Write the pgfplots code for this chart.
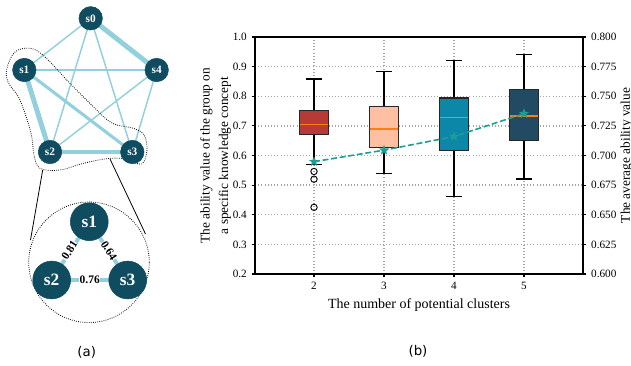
\documentclass[border=0pt]{standalone}
\usepackage{fontspec}
\setmainfont{Liberation Serif}
\newfontfamily\dejavu{DejaVu Sans}
\usepackage{pgfplots}
\pgfplotsset{compat=1.18}
\definecolor{nodec}{HTML}{0F4C5F}
\definecolor{edgec}{HTML}{92D0DE}
\definecolor{bA}{HTML}{B83A36}
\definecolor{bB}{HTML}{FFBFA3}
\definecolor{bC}{HTML}{0C87A7}
\definecolor{bD}{HTML}{234A63}
\definecolor{medc}{HTML}{FF7F0E}
\definecolor{linec}{HTML}{1A9E96}
\pgfdeclareplotmark{fstar}{%
  \pgfpathmoveto{\pgfpointpolar{90}{\pgfplotmarksize}}%
  \pgfpathlineto{\pgfpointpolar{126}{0.42\pgfplotmarksize}}%
  \pgfpathlineto{\pgfpointpolar{162}{\pgfplotmarksize}}%
  \pgfpathlineto{\pgfpointpolar{198}{0.42\pgfplotmarksize}}%
  \pgfpathlineto{\pgfpointpolar{234}{\pgfplotmarksize}}%
  \pgfpathlineto{\pgfpointpolar{270}{0.42\pgfplotmarksize}}%
  \pgfpathlineto{\pgfpointpolar{306}{\pgfplotmarksize}}%
  \pgfpathlineto{\pgfpointpolar{342}{0.42\pgfplotmarksize}}%
  \pgfpathlineto{\pgfpointpolar{18}{\pgfplotmarksize}}%
  \pgfpathlineto{\pgfpointpolar{54}{0.42\pgfplotmarksize}}%
  \pgfpathclose\pgfusepathqfillstroke}
\pgfplotsset{
  boxl/.style={draw=black!85, line width=0.9pt},
  whisk/.style={black, line width=0.9pt},
  med/.style={medc, line width=1pt},
}
\begin{document}
\begin{tikzpicture}
% ---------------- panel (a) overlay, pixel units ----------------
\begin{axis}[at={(0,0)}, anchor=south west, scale only axis,
  width=473.25pt, height=273.75pt, xmin=0, xmax=631, ymin=0, ymax=365,
  y dir=reverse, hide axis, clip=false]
% edges of the full graph
\addplot[edgec, line width=1.1pt] coordinates {(90.7,18.3) (24.3,70)};
\addplot[edgec, line width=1.1pt] coordinates {(90.7,18.3) (50,152)};
\addplot[edgec, line width=1.1pt] coordinates {(90.7,18.3) (132.3,152)};
\addplot[edgec, line width=3.7pt] coordinates {(90.7,18.3) (156.7,70)};
\addplot[edgec, line width=1.3pt] coordinates {(24.3,70) (156.7,70)};
\addplot[edgec, line width=3.7pt] coordinates {(24.3,70) (50,152)};
\addplot[edgec, line width=2.3pt] coordinates {(24.3,70) (132.3,152)};
\addplot[edgec, line width=1.1pt] coordinates {(156.7,70) (50,152)};
\addplot[edgec, line width=1.1pt] coordinates {(156.7,70) (132.3,152)};
\addplot[edgec, line width=3.0pt] coordinates {(50,152) (132.3,152)};
% dotted contour around s1, s2, s3
\addplot[black, densely dotted, line width=0.6pt, smooth, tension=0.6] coordinates {
 (66.7,80) (93.3,106.7) (112,123) (133.3,128.3) (144,135) (147,150) (141.7,164)
 (126.7,159.5) (110,158.3) (83.3,163.3) (60,170) (40,168.3) (34,155) (31,133.3)
 (20,100) (8,82) (7,68) (15,52) (30,48.3) (44,56) (66.7,80)};
% connector lines
\addplot[black, line width=0.6pt] coordinates {(42.7,170) (30.5,240)};
\addplot[black, line width=0.6pt] coordinates {(110,159) (145.5,234)};
% zoom circle
\addplot[only marks, mark=o, mark size=45.2pt, mark options={black, densely dotted, line width=0.6pt}] coordinates {(89,262.3)};
% nodes of the full graph
\addplot[only marks, mark=*, mark size=8.8pt, mark options={nodec, draw=nodec},
  point meta=explicit symbolic, nodes near coords,
  every node near coord/.style={anchor=center, text=white, font=\bfseries\fontsize{8.5}{10}\selectfont}]
  coordinates {(90.7,18.3) [s0] (24.3,70) [s1] (156.7,70) [s4] (50,152) [s2] (132.3,152) [s3]};
% zoomed subgraph
\addplot[edgec, line width=3pt] coordinates {(89.3,221.7) (51.7,280)};
\addplot[edgec, line width=3pt] coordinates {(89.3,221.7) (127.7,280)};
\addplot[edgec, line width=3pt] coordinates {(51.7,280) (127.7,280)};
\addplot[only marks, mark=*, mark size=14.2pt, mark options={nodec, draw=nodec},
  point meta=explicit symbolic, nodes near coords,
  every node near coord/.style={anchor=center, text=white, font=\bfseries\fontsize{13}{15}\selectfont}]
  coordinates {(89.3,221.7) [s1] (51.7,280) [s2] (127.7,280) [s3]};
\node[fill=white, inner sep=0.2pt, rotate=57, font=\bfseries\fontsize{8.6}{10}\selectfont] at (axis cs:69.5,250.5) {0.81};
\node[fill=white, inner sep=0.2pt, rotate=-57, font=\bfseries\fontsize{8.6}{10}\selectfont] at (axis cs:109,250.5) {0.64};
\node[fill=white, inner sep=0.2pt, font=\bfseries\fontsize{8.6}{10}\selectfont] at (axis cs:89.7,280) {0.76};
\node[font=\dejavu\fontsize{10}{12}\selectfont] at (axis cs:86.7,352.5) {(a)};
\node[font=\dejavu\fontsize{10}{12}\selectfont] at (axis cs:418,351) {(b)};
\end{axis}
% ---------------- panel (b) ----------------
\begin{axis}[at={(191.25pt,68.25pt)}, anchor=south west, scale only axis,
  width=246pt, height=177.75pt,
  xmin=1.157, xmax=5.843, ymin=0.2, ymax=1.0,
  xtick={2,3,4,5},
  ytick={0.2,0.3,0.4,0.5,0.6,0.7,0.8,0.9,1.0},
  y tick label style={/pgf/number format/.cd, fixed, fixed zerofill, precision=1},
  /pgf/number format/assume math mode=true,
  tick label style={font=\fontsize{8.4}{10}\selectfont},
  tick align=outside, major tick length=2.6pt, tick style={black, line width=0.8pt},
  ytick pos=left, xtick pos=bottom,
  grid=major, grid style={dotted, line width=1pt, black!35},
  axis line style={line width=0.9pt},
  xlabel={The number of potential clusters},
  ylabel={The ability value of the group on\\[2.5pt]a specific knowledge concept},
  ylabel style={align=center, font=\fontsize{10}{11.5}\selectfont, at={(axis description cs:-0.12,0.5)}, anchor=center},
  xlabel style={font=\fontsize{10.5}{12}\selectfont},
]
% box for 2 clusters: whiskers 0.570/0.858, quartiles 0.671/0.751, median 0.705
\addplot[whisk] coordinates {(2,0.751) (2,0.858)};
\addplot[whisk] coordinates {(2,0.671) (2,0.570)};
\addplot[whisk] coordinates {(1.89,0.858) (2.11,0.858)};
\addplot[whisk] coordinates {(1.89,0.570) (2.11,0.570)};
\addplot[boxl, fill=bA] coordinates {(1.795,0.671) (2.205,0.671) (2.205,0.751) (1.795,0.751)} -- cycle;
\addplot[med] coordinates {(1.795,0.705) (2.205,0.705)};
\addplot[only marks, mark=o, mark size=2.4pt, mark options={black, line width=0.7pt}] coordinates {(2,0.546) (2,0.520) (2,0.425)};
% box for 3 clusters
\addplot[whisk] coordinates {(3,0.766) (3,0.884)};
\addplot[whisk] coordinates {(3,0.627) (3,0.539)};
\addplot[whisk] coordinates {(2.89,0.884) (3.11,0.884)};
\addplot[whisk] coordinates {(2.89,0.539) (3.11,0.539)};
\addplot[boxl, fill=bB] coordinates {(2.795,0.627) (3.205,0.627) (3.205,0.766) (2.795,0.766)} -- cycle;
\addplot[med] coordinates {(2.795,0.690) (3.205,0.690)};
% box for 4 clusters
\addplot[whisk] coordinates {(4,0.794) (4,0.920)};
\addplot[whisk] coordinates {(4,0.617) (4,0.461)};
\addplot[whisk] coordinates {(3.89,0.920) (4.11,0.920)};
\addplot[whisk] coordinates {(3.89,0.461) (4.11,0.461)};
\addplot[boxl, fill=bC] coordinates {(3.795,0.617) (4.205,0.617) (4.205,0.794) (3.795,0.794)} -- cycle;
\addplot[med] coordinates {(3.795,0.728) (4.205,0.728)};
% box for 5 clusters
\addplot[whisk] coordinates {(5,0.822) (5,0.940)};
\addplot[whisk] coordinates {(5,0.650) (5,0.521)};
\addplot[whisk] coordinates {(4.89,0.940) (5.11,0.940)};
\addplot[whisk] coordinates {(4.89,0.521) (5.11,0.521)};
\addplot[boxl, fill=bD] coordinates {(4.795,0.650) (5.205,0.650) (5.205,0.822) (4.795,0.822)} -- cycle;
\addplot[med] coordinates {(4.795,0.733) (5.205,0.733)};
\end{axis}
\begin{axis}[at={(191.25pt,68.25pt)}, anchor=south west, scale only axis,
  width=246pt, height=177.75pt,
  xmin=1.157, xmax=5.843, ymin=0.6, ymax=0.8,
  axis y line*=right, axis x line=none,
  ytick={0.6,0.625,0.65,0.675,0.7,0.725,0.75,0.775,0.8},
  y tick label style={/pgf/number format/.cd, fixed, fixed zerofill, precision=3},
  /pgf/number format/assume math mode=true,
  tick label style={font=\fontsize{8.4}{10}\selectfont},
  tick align=outside, major tick length=2.6pt, tick style={black, line width=0.8pt},
  axis line style={line width=0.9pt},
  ylabel={The average ability value},
  ylabel style={font=\fontsize{10}{12}\selectfont, at={(axis description cs:1.133,0.5)}, anchor=center},
]
\addplot[linec, line width=1.2pt, dash pattern=on 4.5pt off 2pt, mark=fstar, mark size=3.6pt, mark options={solid, fill=linec, draw=linec, line width=0.2pt}]
  coordinates {(2,0.6948) (3,0.7045) (4,0.716) (5,0.7353)};
\end{axis}
\pgfresetboundingbox
\path[use as bounding box] (0,0) rectangle (473.25pt,273.75pt);
\end{tikzpicture}
\end{document}
